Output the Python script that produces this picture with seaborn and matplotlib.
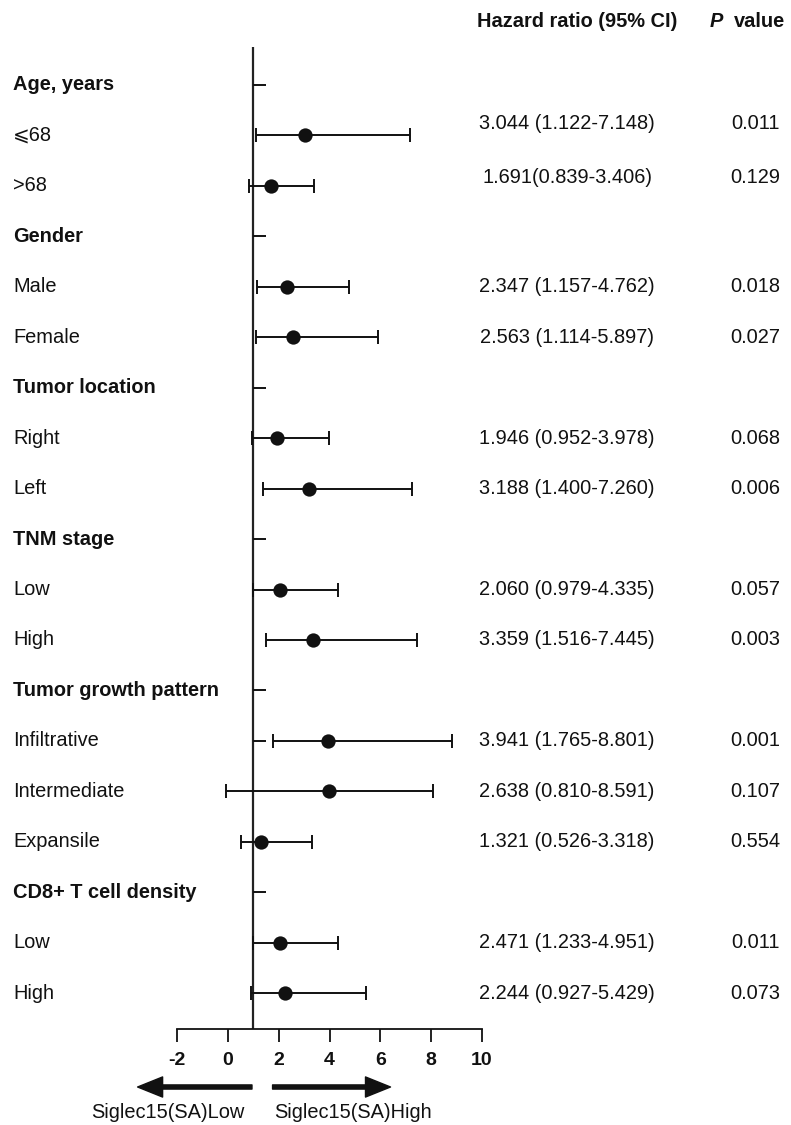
import numpy as np
import matplotlib
matplotlib.use("Agg")
import matplotlib.pyplot as plt
import seaborn as sns
from matplotlib.transforms import blended_transform_factory

# ---------------- data ----------------
row_labels = ["Age, years", "⩽68", ">68",
              "Gender", "Male", "Female",
              "Tumor location", "Right", "Left",
              "TNM stage", "Low", "High",
              "Tumor growth pattern", "Infiltrative", "Intermediate", "Expansile",
              "CD8+ T cell density", "Low", "High"]
is_header = [True, False, False,
             True, False, False,
             True, False, False,
             True, False, False,
             True, False, False, False,
             True, False, False]
hr_text = ["", "3.044 (1.122-7.148)", "1.691(0.839-3.406)",
           "", "2.347 (1.157-4.762)", "2.563 (1.114-5.897)",
           "", "1.946 (0.952-3.978)", "3.188 (1.400-7.260)",
           "", "2.060 (0.979-4.335)", "3.359 (1.516-7.445)",
           "", "3.941 (1.765-8.801)", "2.638 (0.810-8.591)", "1.321 (0.526-3.318)",
           "", "2.471 (1.233-4.951)", "2.244 (0.927-5.429)"]
p_text = ["", "0.011", "0.129",
          "", "0.018", "0.027",
          "", "0.068", "0.006",
          "", "0.057", "0.003",
          "", "0.001", "0.107", "0.554",
          "", "0.011", "0.073"]
# plotted markers as drawn in the figure (subgroup rows only)
est = [3.044, 1.691, 2.347, 2.563, 1.946, 3.188, 2.060, 3.359, 3.941, 3.99, 1.321, 2.06, 2.244]
lo = [1.122, 0.839, 1.157, 1.114, 0.952, 1.400, 0.979, 1.516, 1.765, -0.08, 0.526, 0.98, 0.927]
hi = [7.148, 3.406, 4.762, 5.897, 3.978, 7.260, 4.335, 7.445, 8.801, 8.06, 3.318, 4.34, 5.429]
stub_rows = ["Age, years", "Gender", "Tumor location", "TNM stage",
             "Tumor growth pattern", "Infiltrative", "CD8+ T cell density"]
x_ticks = [-2, 0, 2, 4, 6, 8, 10]
ref_value = 1.0
left_label = "Siglec15(SA)Low"
right_label = "Siglec15(SA)High"

# ---------------- style ----------------
sns.set_style("white")
plt.rcParams['font.family'] = ['Liberation Sans', 'DejaVu Sans']
FS = 14.4
INK = "#111111"

W, H = 791, 1125
fig = plt.figure(figsize=(W / 100, H / 100), dpi=100)
fig.patch.set_facecolor("white")
ax_left, ax_right, ax_top, ax_bot = 177, 482, 47, 1029
ax = fig.add_axes([ax_left / W, 1 - ax_bot / H, (ax_right - ax_left) / W, (ax_bot - ax_top) / H])
ax.set_facecolor("white")

n = len(row_labels)
rows = np.arange(n)
sub_rows = rows[[not h for h in is_header]]
est_a, lo_a, hi_a = np.array(est), np.array(lo), np.array(hi)

# error bars
ax.errorbar(est_a, sub_rows, xerr=[est_a - lo_a, hi_a - est_a], fmt='none',
            ecolor=INK, elinewidth=1.4, capsize=4.8, capthick=1.4, zorder=2)
# points
sns.scatterplot(x=est_a, y=sub_rows, s=10.3 ** 2, color=INK, edgecolor=INK,
                linewidth=0, zorder=3, ax=ax, legend=False)
# header stubs
stub_idx = [13 if s == "Infiltrative" else row_labels.index(s) for s in stub_rows]
ax.hlines(stub_idx, ref_value, ref_value + 0.5, color=INK, lw=1.4, zorder=2)
# reference line
ax.axvline(ref_value, ymin=0, ymax=1, color="#222222", lw=1.6, zorder=1)

# axes
ax.set_xlim(-2, 10)
ax.set_ylim(18.71, -0.753)
ax.set_xticks(x_ticks)
ax.set_xticklabels([str(t) for t in x_ticks], fontsize=14, fontweight='bold', color=INK)
ax.set_yticks([])
ax.set_xlabel("")
ax.set_ylabel("")
for s in ["top", "right", "left"]:
    ax.spines[s].set_visible(False)
ax.spines["bottom"].set_color(INK)
ax.spines["bottom"].set_linewidth(1.3)
ax.tick_params(axis='x', direction='out', length=9.4, width=1.3, color=INK, pad=7, bottom=True)

# row labels
trans_lab = blended_transform_factory(fig.transFigure, ax.transData)
for i, (lab, hd) in enumerate(zip(row_labels, is_header)):
    ax.text(13 / W, i, lab, transform=trans_lab, ha='left', va='center',
            fontsize=FS, fontweight='bold' if hd else 'normal', color=INK, clip_on=False)

# HR and P value columns
text_offsets = {1: -0.23, 2: -0.16}
for i in range(n):
    if hr_text[i]:
        yy = i + text_offsets.get(i, 0)
        ax.text(567 / W, yy, hr_text[i], transform=trans_lab, ha='center', va='center',
                fontsize=FS, color=INK, clip_on=False)
        ax.text(755 / W, yy, p_text[i], transform=trans_lab, ha='center', va='center',
                fontsize=FS, color=INK, clip_on=False)

# column headers
hy = -1.25
ax.text(577 / W, hy, "Hazard ratio (95% CI)", transform=trans_lab, ha='center', va='center',
        fontsize=FS, fontweight='bold', color=INK, clip_on=False)
ax.text(710 / W, hy, "P", transform=trans_lab, ha='left', va='center',
        fontsize=FS, fontweight='bold', fontstyle='italic', color=INK, clip_on=False)
ax.text(734 / W, hy, "value", transform=trans_lab, ha='left', va='center',
        fontsize=FS, fontweight='bold', color=INK, clip_on=False)

# direction arrows
arrow_y = -(1087 - ax_bot) / (ax_bot - ax_top)
lab_y = -(1113 - ax_bot) / (ax_bot - ax_top)
astyle = "simple,head_length=1.8,head_width=1.45,tail_width=0.3"
ax.annotate("", xy=(-3.55, arrow_y), xytext=(0.95, arrow_y),
            xycoords=('data', 'axes fraction'), textcoords=('data', 'axes fraction'),
            arrowprops=dict(arrowstyle=astyle, mutation_scale=10, color=INK,
                            shrinkA=0, shrinkB=0), annotation_clip=False)
ax.annotate("", xy=(6.4, arrow_y), xytext=(1.76, arrow_y),
            xycoords=('data', 'axes fraction'), textcoords=('data', 'axes fraction'),
            arrowprops=dict(arrowstyle=astyle, mutation_scale=10, color=INK,
                            shrinkA=0, shrinkB=0), annotation_clip=False)
ax.text(-2.36, lab_y, left_label, transform=blended_transform_factory(ax.transData, ax.transAxes),
        ha='center', va='center', fontsize=FS, color=INK, clip_on=False)
ax.text(4.92, lab_y, right_label, transform=blended_transform_factory(ax.transData, ax.transAxes),
        ha='center', va='center', fontsize=FS, color=INK, clip_on=False)

fig.savefig("out.png", dpi=100, facecolor="white")
